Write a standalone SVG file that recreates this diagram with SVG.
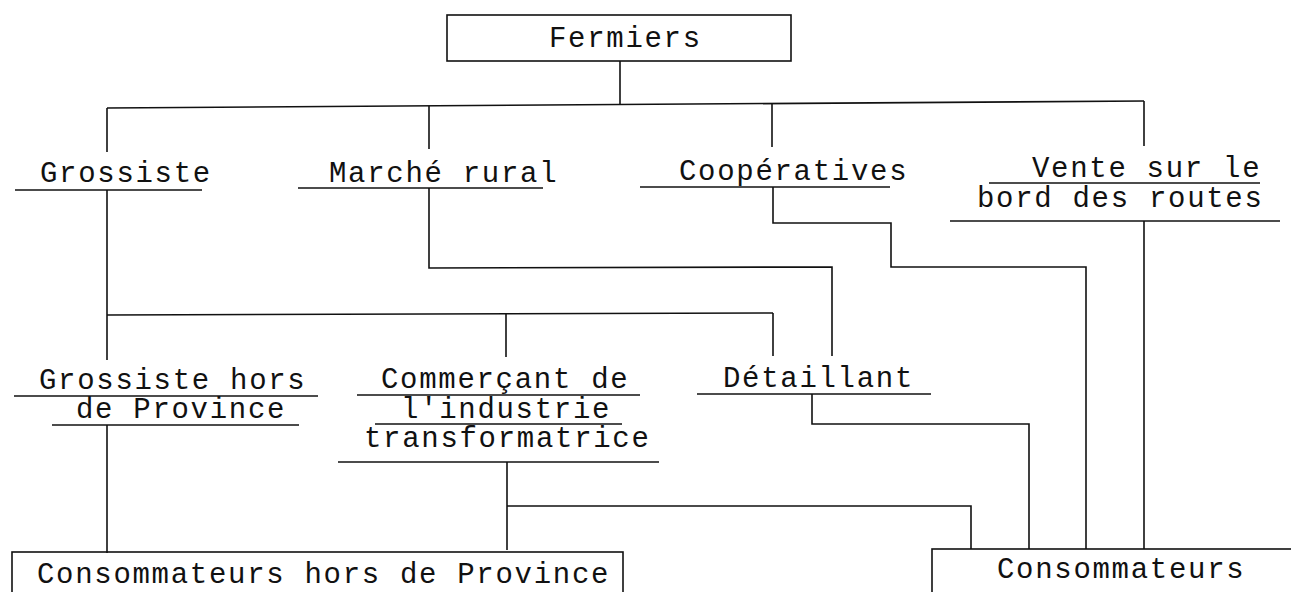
<svg xmlns="http://www.w3.org/2000/svg" width="1291" height="592" viewBox="0 0 1291 592">
<style>
.bg{fill:#ffffff}
.box{fill:none;stroke:#111;stroke-width:1.6}
.ul{stroke:#111;stroke-width:1.5;fill:none}
.c{fill:none;stroke:#111;stroke-width:1.6}
text{font-family:"Liberation Mono","DejaVu Sans Mono",monospace;font-size:29px;letter-spacing:1.7px;fill:#111}
</style>
<rect class="bg" x="0" y="0" width="1291" height="592"/>

<g id="connectors">
  <line class="c" x1="620" y1="61" x2="620" y2="105"/>
  <line class="c" x1="107" y1="108" x2="1144" y2="101"/>
  <line class="c" x1="107" y1="108" x2="107" y2="152"/>
  <line class="c" x1="429" y1="106" x2="429" y2="149"/>
  <line class="c" x1="772" y1="104" x2="772" y2="147"/>
  <line class="c" x1="1144" y1="101" x2="1144" y2="146"/>
  <line class="c" x1="107" y1="190" x2="107" y2="360"/>
  <line class="c" x1="107" y1="315" x2="773" y2="313"/>
  <line class="c" x1="506" y1="314" x2="506" y2="357"/>
  <line class="c" x1="773" y1="313" x2="773" y2="356"/>
  <line class="c" x1="107" y1="425" x2="107" y2="553"/>
  <polyline class="c" points="429,188 429,268 832,267 832,356"/>
  <polyline class="c" points="773,187 773,223 891,223 891,267 1086,267 1086,549"/>
  <line class="c" x1="1144" y1="221" x2="1144" y2="549"/>
  <polyline class="c" points="812,394 812,424 1029,424 1029,549"/>
  <line class="c" x1="507" y1="462" x2="507" y2="550"/>
  <polyline class="c" points="507,506 971,506 971,549"/>
</g>

<g id="fermiers">
  <rect class="box" x="447" y="15" width="344" height="46"/>
  <text x="549" y="47">Fermiers</text>
</g>

<g id="grossiste">
  <text x="40" y="182">Grossiste</text>
  <line class="ul" x1="15" y1="190" x2="202" y2="190"/>
</g>

<g id="marche-rural">
  <text x="329" y="182">Marché rural</text>
  <line class="ul" x1="298" y1="188" x2="543" y2="188"/>
</g>

<g id="cooperatives">
  <text x="679" y="180">Coopératives</text>
  <line class="ul" x1="640" y1="187" x2="890" y2="187"/>
</g>

<g id="vente">
  <text x="1032" y="177">Vente sur le</text>
  <line class="ul" x1="989" y1="183" x2="1260" y2="183"/>
  <text x="977" y="207">bord des routes</text>
  <line class="ul" x1="950" y1="221" x2="1280" y2="221"/>
</g>

<g id="grossiste-hors">
  <text x="39" y="389">Grossiste hors</text>
  <line class="ul" x1="14" y1="396" x2="318" y2="396"/>
  <text x="76" y="418">de Province</text>
  <line class="ul" x1="52" y1="425" x2="299" y2="425"/>
</g>

<g id="commercant">
  <text x="381" y="388">Commerçant de</text>
  <line class="ul" x1="357" y1="395" x2="640" y2="395"/>
  <text x="401" y="418">l'industrie</text>
  <line class="ul" x1="375" y1="424" x2="622" y2="424"/>
  <text x="364" y="447">transformatrice</text>
  <line class="ul" x1="338" y1="462" x2="659" y2="462"/>
</g>

<g id="detaillant">
  <text x="723" y="387">Détaillant</text>
  <line class="ul" x1="697" y1="394" x2="931" y2="394"/>
</g>

<g id="consommateurs-hors">
  <rect class="box" x="12" y="552" width="611" height="60"/>
  <text x="37" y="583">Consommateurs hors de Province</text>
</g>

<g id="consommateurs">
  <rect class="box" x="932" y="549" width="380" height="60"/>
  <text x="997" y="578">Consommateurs</text>
</g>
</svg>
